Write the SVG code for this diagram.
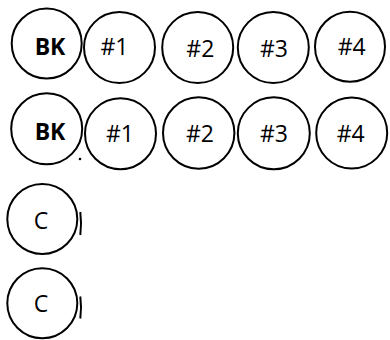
<svg xmlns="http://www.w3.org/2000/svg" width="390" height="340" viewBox="0 0 390 340">
<style>
.n{fill:#fff;stroke:#000;stroke-width:2}
.t{font-family:"Open Sans","Liberation Sans",Arial,sans-serif;font-size:23px;fill:#000;text-anchor:middle}
.b{font-weight:bold}
.m{stroke:#000;stroke-width:2;fill:none}
</style>
<rect width="390" height="340" fill="#fff"/>
<g id="r1-bk"><circle class="n" cx="46.7" cy="43.5" r="35"/><text class="t b" x="50" y="55">BK</text></g>
<g id="r1-1"><circle class="n" cx="119.5" cy="47.5" r="35.5"/><text class="t" x="114.5" y="55">#1</text></g>
<g id="r1-2"><circle class="n" cx="197.7" cy="47.5" r="35.5"/><text class="t" x="200.3" y="57">#2</text></g>
<g id="r1-3"><circle class="n" cx="273.3" cy="47.5" r="35.5"/><text class="t" x="274" y="57">#3</text></g>
<g id="r1-4"><circle class="n" cx="350" cy="46.7" r="35"/><text class="t" x="351.7" y="55">#4</text></g>
<g id="r2-bk"><circle class="n" cx="46.7" cy="128.8" r="35.5"/><text class="t b" x="50" y="140">BK</text></g>
<g id="r2-1"><circle class="n" cx="120.5" cy="133.7" r="35.5"/><text class="t" x="120" y="142">#1</text></g>
<g id="r2-2"><circle class="n" cx="198.7" cy="133" r="35.7"/><text class="t" x="200" y="141.7">#2</text></g>
<g id="r2-3"><circle class="n" cx="273.8" cy="133.3" r="36"/><text class="t" x="274" y="141.7">#3</text></g>
<g id="r2-4"><circle class="n" cx="351.7" cy="133" r="35.5"/><text class="t" x="350.7" y="141.7">#4</text></g>
<g id="c1"><circle class="n" cx="42.3" cy="219" r="35"/><text class="t" x="41" y="229.3">C</text></g>
<g id="c2"><circle class="n" cx="42.3" cy="303.3" r="35"/><text class="t" x="41" y="311.7">C</text></g>
<g id="connectors">
<circle cx="80" cy="159" r="1.3" fill="#000"/>
<path class="m" d="M80.3 212 Q81.8 223.5 80.3 235"/>
<path class="m" d="M80.3 296.5 Q81.8 307.5 80.3 318.5"/>
</g>
</svg>
